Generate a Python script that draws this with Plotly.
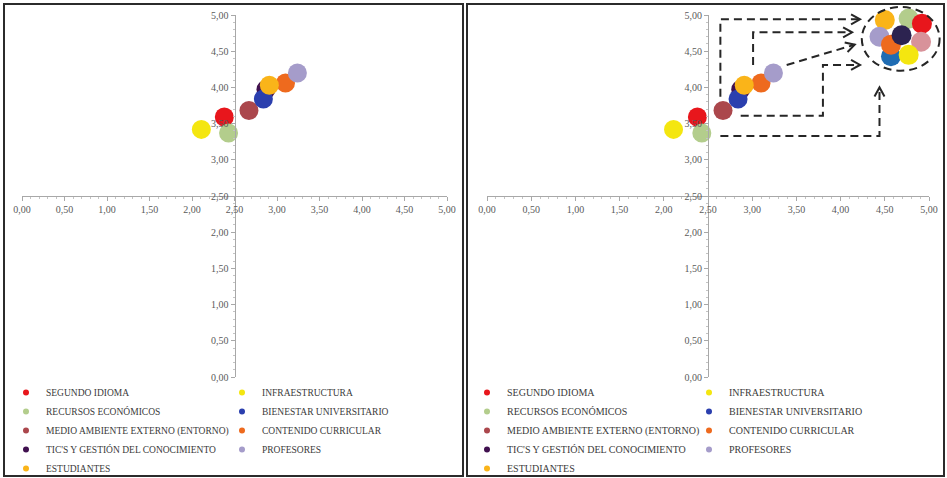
import plotly.graph_objects as go

# ---------------- data ----------------
categories = [
    "SEGUNDO IDIOMA", "INFRAESTRUCTURA",
    "RECURSOS ECONÓMICOS", "BIENESTAR UNIVERSITARIO",
    "MEDIO AMBIENTE EXTERNO (ENTORNO)", "CONTENIDO CURRICULAR",
    "TIC'S Y GESTIÓN DEL CONOCIMIENTO", "PROFESORES",
    "ESTUDIANTES",
]
x_values = [2.38, 2.11, 2.43, 2.84, 2.67, 3.10, 2.87, 3.24, 2.91]
y_values = [3.59, 3.42, 3.37, 3.84, 3.68, 4.06, 3.97, 4.20, 4.03]

# target (ideal) cluster on the right-hand chart
target_x = [4.92, 4.77, 4.77, 4.57, 4.91, 4.57, 4.69, 4.44, 4.50]
target_y = [4.88, 4.45, 4.95, 4.43, 4.63, 4.59, 4.72, 4.70, 4.93]

tick_values = [0, 0.5, 1, 1.5, 2, 2.5, 3, 3.5, 4, 4.5, 5]

# ---------------- styles ----------------
colors = ["#e8161c", "#f4e610", "#b3cd8c", "#2b3fae", "#ab474c",
          "#ee6a1e", "#40104f", "#a59cca", "#fab419"]
target_colors = ["#e8161c", "#f4e610", "#b3cd8c", "#1f6cb3", "#d8929a",
                 "#ee6a1e", "#2c2350", "#a59cca", "#fab419"]
draw_order = [1, 0, 2, 4, 6, 3, 5, 7, 8]
target_order = [8, 2, 0, 4, 7, 3, 5, 6, 1]

W, H = 947, 478
FONT = "Liberation Serif"

xdom1 = [22 / W, 447 / W]
xdom2 = [487 / W, 929 / W]
ydom = [1 - 377 / H, 1 - 15 / H]


def to_paper(v, dom):
    return dom[0] + (dom[1] - dom[0]) * v / 5.0


fig = go.Figure()

for panel, (xa, ya) in enumerate([("x", "y"), ("x2", "y2")]):
    for i in draw_order:
        fig.add_trace(go.Scatter(
            x=[x_values[i]], y=[y_values[i]], xaxis=xa, yaxis=ya,
            mode="markers", name=categories[i], showlegend=False,
            marker=dict(size=19, color=colors[i], opacity=1),
            cliponaxis=False, hoverinfo="name+x+y"))
    # legend entries (two columns per panel)
    for i, name in enumerate(categories):
        lg = ["legend", "legend2"] if panel == 0 else ["legend3", "legend4"]
        fig.add_trace(go.Scatter(
            x=[None], y=[None], xaxis=xa, yaxis=ya, mode="markers",
            name=name, legend=lg[i % 2],
            marker=dict(size=6, color=colors[i])))

for i in target_order:
    fig.add_trace(go.Scatter(
        x=[target_x[i]], y=[target_y[i]], xaxis="x2", yaxis="y2",
        mode="markers", name=categories[i], showlegend=False,
        marker=dict(size=20, color=target_colors[i]),
        cliponaxis=False))

axis_common = dict(
    range=[0, 5], tickmode="array", tickvals=tick_values, tickformat=".2f",
    showgrid=False, zeroline=False, showline=True, linecolor="#a8a8a8",
    linewidth=1, ticks="outside", ticklen=4, tickcolor="#a8a8a8",
    minor=dict(dtick=0.1, ticks="outside", ticklen=2, tickcolor="#c4c4c4"),
    tickfont=dict(family=FONT, size=10, color="#5a5a5a"), fixedrange=True,
)
ypos_x = 1 - 196 / H

fig.update_layout(
    width=W, height=H, margin=dict(l=0, r=0, t=0, b=0, autoexpand=False),
    paper_bgcolor="white", plot_bgcolor="white", separators=",.",
    xaxis=dict(domain=xdom1, anchor="free", position=ypos_x, **axis_common),
    yaxis=dict(domain=ydom, anchor="free", position=to_paper(2.5, xdom1),
               layer="above traces", **axis_common),
    xaxis2=dict(domain=xdom2, anchor="free", position=ypos_x, **axis_common),
    yaxis2=dict(domain=ydom, anchor="free", position=to_paper(2.5, xdom2),
                layer="above traces", **axis_common),
)

leg_common = dict(orientation="v", yanchor="top", xanchor="left",
                  bgcolor="rgba(0,0,0,0)", itemwidth=30, tracegroupgap=0)
font_left = dict(family=FONT, size=9.5, color="#3a3a3a")
font_right = dict(family=FONT, size=10, color="#3a3a3a")
ly = 1 - 378 / H
fig.update_layout(
    legend=dict(x=6 / W, y=ly, font=font_left, **leg_common),
    legend2=dict(x=222 / W, y=ly, font=font_left, **leg_common),
    legend3=dict(x=467 / W, y=ly, font=font_right, **leg_common),
    legend4=dict(x=689 / W, y=ly, font=font_right, **leg_common),
)

# ---------------- annotation drawing (right panel) ----------------
arrow_paths = [
    [(2.64, 3.87), (2.64, 4.94), (4.22, 4.94)],
    [(2.87, 3.61), (3.80, 3.61), (3.80, 4.31), (4.22, 4.31)],
    [(3.01, 4.31), (3.01, 4.76), (4.13, 4.76)],
    [(3.39, 4.31), (4.16, 4.59)],
    [(2.64, 3.33), (4.44, 3.33), (4.44, 4.00)],
]
ellipse_center = (4.68, 4.67)
ellipse_radius = (0.44, 0.44)


def pp(pt):
    return to_paper(pt[0], xdom2), to_paper(pt[1], ydom)


shapes = []
for path in arrow_paths:
    pts = [pp(p) for p in path]
    d = "M " + " L ".join(f"{x:.5f},{y:.5f}" for x, y in pts)
    shapes.append(dict(type="path", path=d, xref="paper", yref="paper",
                       line=dict(color="#262626", width=2, dash="8px,5px")))
    # chevron arrowhead computed in pixel space
    (x1, y1), (x2, y2) = pts[-2], pts[-1]
    dx, dy = (x2 - x1) * W, (y2 - y1) * H
    L = (dx * dx + dy * dy) ** 0.5
    ux, uy = dx / L, dy / L
    nx, ny = -uy, ux
    hl, hw = 9, 5
    a = (x2 - (ux * hl + nx * hw) / W, y2 - (uy * hl + ny * hw) / H)
    b = (x2 - (ux * hl - nx * hw) / W, y2 - (uy * hl - ny * hw) / H)
    shapes.append(dict(type="path", xref="paper", yref="paper",
                       path=f"M {a[0]:.5f},{a[1]:.5f} L {x2:.5f},{y2:.5f} L {b[0]:.5f},{b[1]:.5f}",
                       line=dict(color="#262626", width=2)))

cx, cy = ellipse_center
rx, ry = ellipse_radius
x0p, y0p = pp((cx - rx, cy - ry))
x1p, y1p = pp((cx + rx, cy + ry))
shapes.append(dict(type="circle", xref="paper", yref="paper",
                   x0=x0p, y0=y0p, x1=x1p, y1=y1p,
                   line=dict(color="#262626", width=2, dash="8px,5px")))

# panel frames
for (l, r) in [(4, 463), (467, 944)]:
    shapes.append(dict(type="rect", xref="paper", yref="paper",
                       x0=l / W, x1=r / W, y0=1 - 476 / H, y1=1 - 4 / H,
                       line=dict(color="#2b2b2b", width=2)))

fig.update_layout(shapes=shapes)

fig.write_html(
    "out.html",
    config={"displayModeBar": False, "staticPlot": False},
    post_script="document.body.style.margin='0px';document.body.style.overflow='hidden';",
)
